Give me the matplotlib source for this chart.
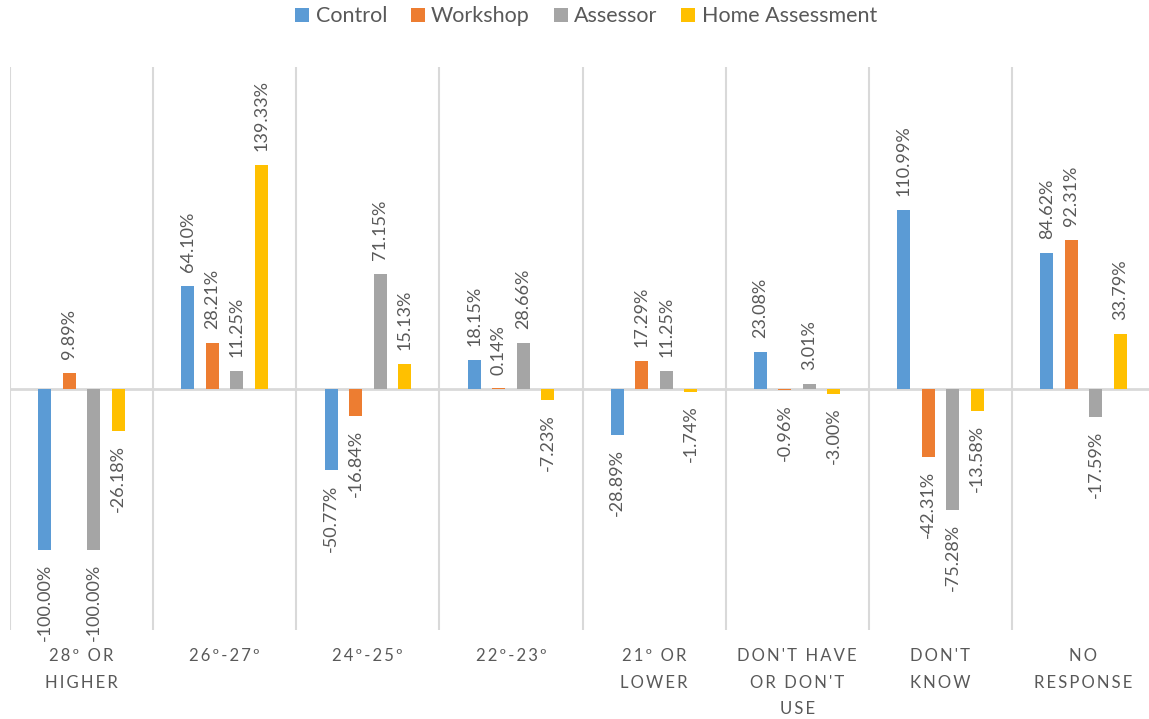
import numpy as np
import matplotlib.pyplot as plt

categories = ["28º OR\nHIGHER", "26º-27º", "24º-25º", "22º-23º",
              "21º OR\nLOWER", "DON'T HAVE\nOR DON'T\nUSE", "DON'T\nKNOW", "NO\nRESPONSE"]
series = ["Control", "Workshop", "Assessor", "Home Assessment"]
control = [-100.00, 64.10, -50.77, 18.15, -28.89, 23.08, 110.99, 84.62]
workshop = [9.89, 28.21, -16.84, 0.14, 17.29, -0.96, -42.31, 92.31]
assessor = [-100.00, 11.25, 71.15, 28.66, 11.25, 3.01, -75.28, -17.59]
home = [-26.18, 139.33, 15.13, -7.23, -1.74, -3.00, -13.58, 33.79]
colors = ["#5B9BD5", "#ED7D31", "#A5A5A5", "#FFC000"]

plt.rcParams['font.family'] = ['Lato', 'DejaVu Sans']
txt = "#595959"
grid = "#D9D9D9"


def spaced(s):
    # letter-spaced look of the category labels
    return "\n".join("\u2009".join(line) for line in s.split("\n"))


fig = plt.figure(figsize=(11.49, 7.19), dpi=100)
ax = fig.add_axes([10/1149, 1-630/719, 1145/1149, (630-67)/719])

x = np.arange(len(categories))
w = 0.091
step = 0.171
for i, (name, vals, c) in enumerate(zip(series, [control, workshop, assessor, home], colors)):
    xs = x + (i-1.5)*step
    ax.bar(xs, vals, width=w, color=c, label=name, zorder=3)
    for xi, v in zip(xs, vals):
        ax.annotate(f"{v:.2f}%", (xi, v), xytext=(0, 10 if v >= 0 else -10),
                    textcoords="offset points", rotation=90, ha="center",
                    va="bottom" if v >= 0 else "top", fontsize=13, color=txt,
                    annotation_clip=False)

ax.set_ylim(-150, 200)
ax.set_xlim(-0.5, len(categories)-0.5)
ax.axhline(0, color=grid, lw=2, zorder=2)
for b in np.arange(-0.5, len(categories), 1.0):
    ax.axvline(b, color=grid, lw=1.5, zorder=1)

ax.set_xticks(x)
ax.set_xticklabels([spaced(c) for c in categories], fontsize=12, color=txt,
                   linespacing=1.82, va="top")
ax.tick_params(axis="x", length=0, pad=13)
ax.set_yticks([])
for s in ax.spines.values():
    s.set_visible(False)

fig.legend(loc="upper center", bbox_to_anchor=(0.51, 1.018), ncol=4, frameon=False,
           fontsize=15.5, labelcolor=txt, handlelength=0.65, handleheight=0.65,
           handletextpad=0.3, columnspacing=1.1)

fig.savefig("out.png", dpi=100)
